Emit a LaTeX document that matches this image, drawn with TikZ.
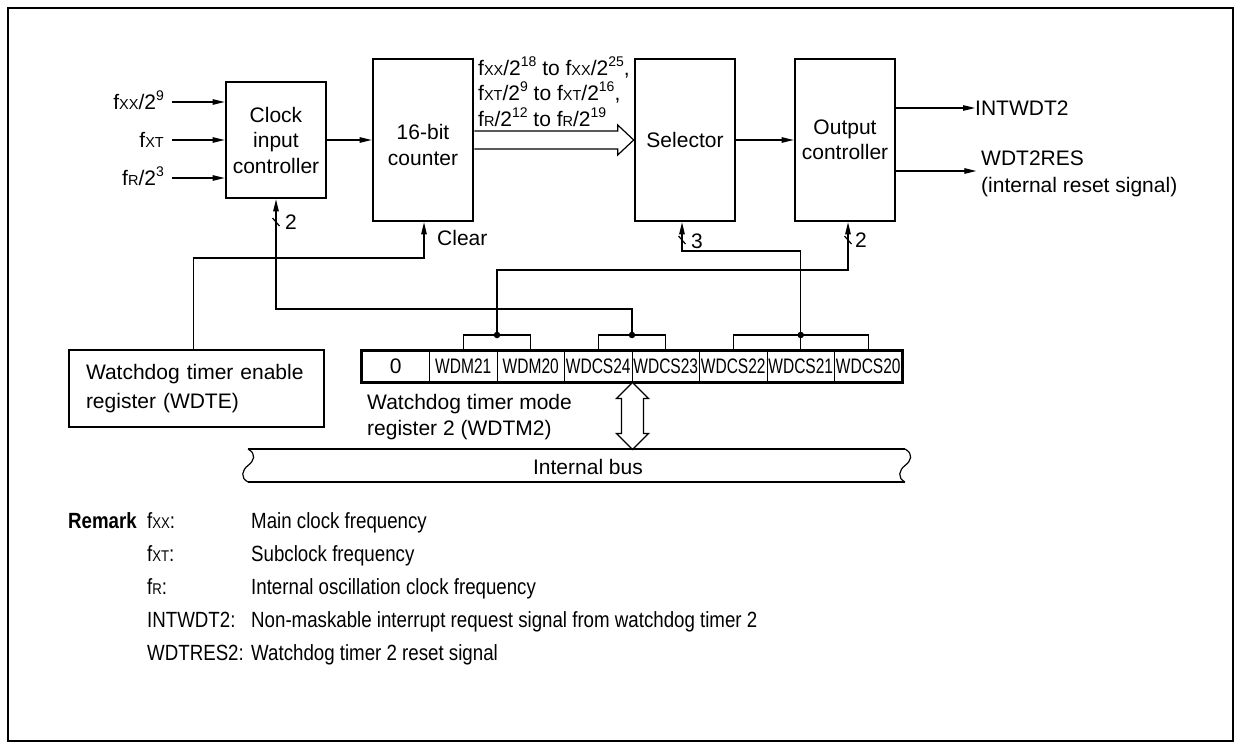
\documentclass[tikz,border=0pt]{standalone}
\usepackage{fontspec}
\setmainfont{Liberation Sans}
\usepackage{graphicx}
\usetikzlibrary{arrows.meta,calc}
\newcommand{\smA}[1]{{\fontsize{14.5}{14.5}\selectfont #1}}
\newcommand{\smB}[1]{{\fontsize{15.5}{15.5}\selectfont #1}}
\newcommand{\spA}[1]{\raisebox{0.42em}{\fontsize{14}{14}\selectfont #1}}
\newcommand{\cnd}[1]{\scalebox{0.74}[1]{#1}}
\newcommand{\nrw}[1]{\scalebox{0.85}[1]{#1}}
\begin{document}
\begin{tikzpicture}[x=1pt,y=-1pt,
  font=\fontsize{21}{25.5}\selectfont,
  blk/.style={draw,line width=2.6pt,inner sep=0pt,align=center},
  ln/.style={line width=1.2pt},
  arr/.style={ln,-{Triangle[length=12pt,width=5.5pt]}},
  lbl/.style={inner sep=0pt,text height=15pt,text depth=0pt},
  rlbl/.style={inner sep=0pt,text height=15.8pt,text depth=0pt,font=\fontsize{22}{26}\selectfont},
  cell/.style={draw,line width=1pt,minimum width=67.5pt,minimum height=31pt,inner sep=0pt},
  jdot/.style={circle,fill,inner sep=0pt,minimum size=6.5pt}]
\useasboundingbox (0,0) rectangle (1241,749);
\draw[line width=2.5pt] (8,8) rectangle (1233,741);

% main blocks
\node[blk,minimum width=100pt,minimum height=116pt] (clk) at (276,140) {Clock\\input\\controller};
\node[blk,minimum width=100pt,minimum height=162pt] (cnt) at (423,140) {};
\node[align=center] (cnttxt) at ([yshift=-5pt]cnt.center) {16-bit\\counter};
\node[blk,minimum width=100pt,minimum height=162pt] (sel) at (685,140) {Selector};
\node[blk,minimum width=100pt,minimum height=162pt] (outc) at (845,140) {Output\\controller};

% inputs
\node[lbl,anchor=east] (in1) at (164,102) {f\smA{XX}/2\spA{9}};
\node[lbl,anchor=east] (in2) at (164,140) {f\smA{XT}};
\node[lbl,anchor=east] (in3) at (164,178) {f\smA{R}/2\spA{3}};
\foreach \n in {in1,in2,in3}
  \draw[arr] ([xshift=8pt]\n.east) -- (\n.east -| clk.west);
\draw[arr] (clk.east) -- (clk.east -| cnt.west);

% counter outputs (hollow arrow)
\draw[ln,fill=white] ($(cnt.east)+(0,-9)$) -- ($(sel.west)+(-16,-9)$) -- ($(sel.west)+(-16,-15)$)
  -- (sel.west) -- ($(sel.west)+(-16,15)$) -- ($(sel.west)+(-16,9)$) -- ($(cnt.east)+(0,9)$);
\node[lbl,anchor=west] (o1) at (478,68) {f\smA{XX}/2\spA{18} to f\smA{XX}/2\spA{25},};
\node[lbl,anchor=west] (o2) at (478,93) {f\smA{XT}/2\spA{9} to f\smA{XT}/2\spA{16},};
\node[lbl,anchor=west] (o3) at (478,119) {f\smA{R}/2\spA{12} to f\smA{R}/2\spA{19}};

\draw[arr] (sel.east) -- (outc.west);

% outputs
\node[lbl,anchor=west] (intw) at (975,108) {INTWDT2};
\draw[arr] (intw.west -| outc.east) -- (intw.west);
\node[lbl,anchor=west] (wres1) at (981,158) {WDT2RES};
\node[lbl,anchor=west] (wres2) at (981,185) {(internal reset signal)};
\draw[arr] ($(outc.east)+(0,31)$) -- ++(80,0);

% WDTE
\node[blk,minimum width=255pt,minimum height=77pt,text width=221pt,align=left,
  font=\fontsize{21}{29}\selectfont] (wdte) at (196.5,388.5) {Watchdog timer enable\\register (WDTE)};
\coordinate (clr) at (424,258);
\draw[arr] ([xshift=-3pt]wdte.north) |- (clr) -- (clr |- cnt.south);
\node[lbl,anchor=west] (clrlbl) at (437,238) {Clear};

% register
\node[cell] (r0) at (395.75,366.5) {0};
\foreach \i/\t in {1/WDM21,2/WDM20,3/WDCS24,4/WDCS23,5/WDCS22,6/WDCS21,7/WDCS20}
  \node[cell] (r\i) at ({395.75+67.5*\i},366.5) {\cnd{\t}};
\draw[line width=2.6pt] (r0.north west) rectangle (r7.south east);
\node[lbl,anchor=west] (wm1) at (367,402) {Watchdog timer mode};
\node[lbl,anchor=west] (wm2) at (367,428) {register 2 (WDTM2)};

% brackets
\coordinate (j1) at (497,335);
\coordinate (j2) at (632,335);
\coordinate (j3) at (800.75,335);
\draw[ln] (r1.north) -- (r1.north |- j1) -- (r2.north |- j1) -- (r2.north);
\draw[ln] (r3.north) -- (r3.north |- j2) -- (r4.north |- j2) -- (r4.north);
\draw[ln] (r5.north) -- (r5.north |- j3) -- (r7.north |- j3) -- (r7.north);
\draw[ln] (r6.north) -- (j3);
\node[jdot] (d1) at (j1) {};
\node[jdot] (d2) at (j2) {};
\node[jdot] (d3) at (j3) {};

% control lines
\draw[arr] (j2) -- ++(0,-26) -| (clk.south);
\draw[arr] (j3) -- ++(0,-84) -| ([xshift=-3pt]sel.south);
\draw[arr] (j1) -- ++(0,-65) -| ([xshift=3pt]outc.south);

% ticks
\draw[ln] (272.5,218) -- (279.5,226);
\node[lbl,anchor=west] (t1) at (285,222) {2};
\draw[ln] (678.5,236) -- (685.5,244);
\node[lbl,anchor=west] (t2) at (691,241) {3};
\draw[ln] (844.5,236) -- (851.5,244);
\node[lbl,anchor=west] (t3) at (855,240) {2};

% double arrow to bus
\draw[ln,fill=white] (r3.south east) -- ++(16,16) -- ++(-5,0) -- ++(0,35) -- ++(5,0) -- ++(-16,16)
  -- ++(-16,-16) -- ++(5,0) -- ++(0,-35) -- ++(-5,0) -- cycle;

% internal bus
\draw[ln] (248,449) -- (905,449);
\draw[ln] (248,482) -- (905,482);
\draw[ln] (248,449) .. controls (257,454) and (254,461) .. (248,465.5) .. controls (242,470) and (240,478) .. (248,482);
\draw[ln] (905,449) .. controls (914,454) and (911,461) .. (905,465.5) .. controls (899,470) and (897,478) .. (905,482);
\node[lbl] (bus) at (588,467) {Internal bus};

% remark
\node[rlbl,anchor=east,font=\bfseries\fontsize{22}{26}\selectfont] (rem) at (137,521) {\nrw{Remark}};
\node[rlbl,anchor=west] (k1) at (147,521) {\nrw{f\smB{XX}:}};
\node[rlbl,anchor=west] (k2) at (147,554) {\nrw{f\smB{XT}:}};
\node[rlbl,anchor=west] (k3) at (147,587) {\nrw{f\smB{R}:}};
\node[rlbl,anchor=west] (k4) at (147,620) {\nrw{INTWDT2:}};
\node[rlbl,anchor=west] (k5) at (147,653) {\nrw{WDTRES2:}};
\node[rlbl,anchor=west] (v1) at (251,521) {\nrw{Main clock frequency}};
\node[rlbl,anchor=west] (v2) at (251,554) {\nrw{Subclock frequency}};
\node[rlbl,anchor=west] (v3) at (251,587) {\nrw{Internal oscillation clock frequency}};
\node[rlbl,anchor=west] (v4) at (251,620) {\nrw{Non-maskable interrupt request signal from watchdog timer 2}};
\node[rlbl,anchor=west] (v5) at (251,653) {\nrw{Watchdog timer 2 reset signal}};
\end{tikzpicture}
\end{document}
